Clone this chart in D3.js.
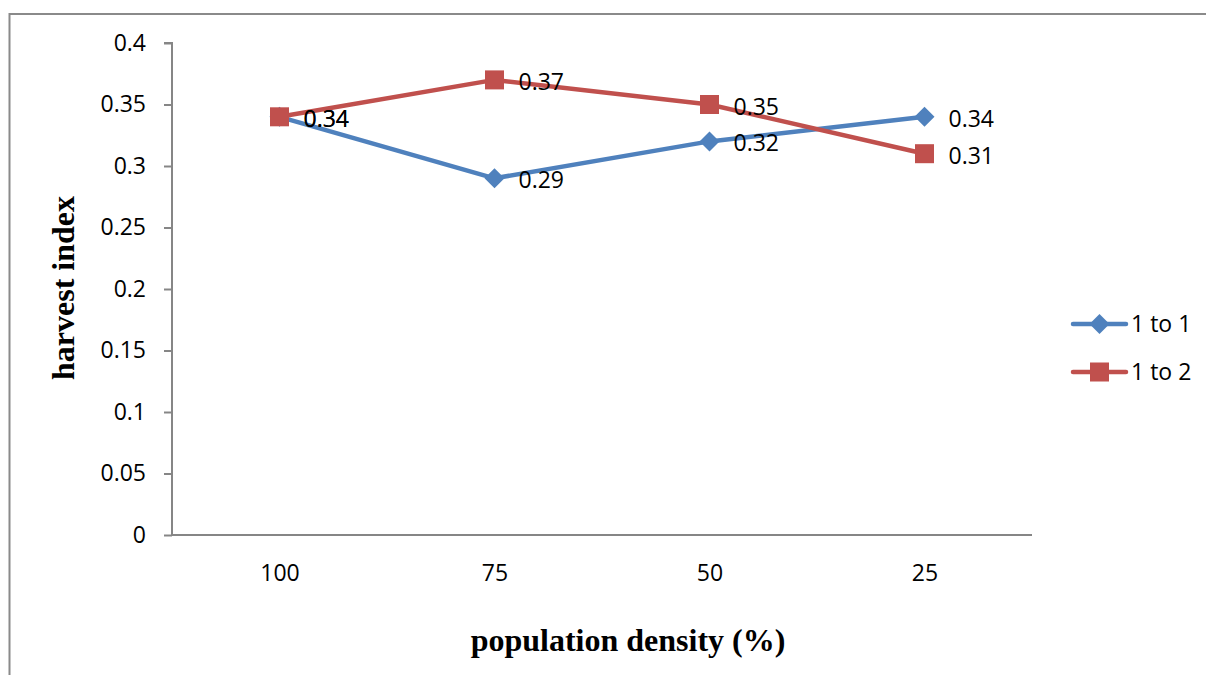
<!DOCTYPE html>
<html>
<head>
<meta charset="utf-8">
<script src="https://cdn.jsdelivr.net/npm/d3@7/dist/d3.min.js"></script>
<style>
  html, body { margin: 0; padding: 0; background: #fff; }
  svg { display: block; }
</style>
</head>
<body>
<svg id="chart" width="1206" height="675"></svg>
<script>
// Harvest index by population density for two planting ratios
const categories = ["100", "75", "50", "25"];
const seriesNames = ["1 to 1", "1 to 2"];
const ratio11 = [0.34, 0.29, 0.32, 0.34];
const ratio12 = [0.34, 0.37, 0.35, 0.31];
const yTicks = [0, 0.05, 0.1, 0.15, 0.2, 0.25, 0.3, 0.35, 0.4];

const series = [
  { name: seriesNames[0], values: ratio11, color: "#4F81BD", marker: "diamond" },
  { name: seriesNames[1], values: ratio12, color: "#C0504D", marker: "square" }
];

const svg = d3.select("#chart");
const font = "'Open Sans', 'Liberation Sans', sans-serif";
const fontSize = 23;
const axisColor = "#868686";

// outer frame of the chart area
svg.append("rect")
  .attr("x", 9.5).attr("y", 14)
  .attr("width", 1230).attr("height", 700)
  .attr("fill", "none")
  .attr("stroke", "#8a8a8a")
  .attr("stroke-width", 2);

const plot = { left: 172, right: 1032, top: 43, bottom: 535 };

const x = d3.scalePoint().domain(categories).range([plot.left, plot.right]).padding(0.5);
const y = d3.scaleLinear().domain([0, 0.4]).range([plot.bottom, plot.top]);

// y axis
const yAxis = svg.append("g")
  .attr("transform", `translate(${plot.left},0)`)
  .call(d3.axisLeft(y).tickValues(yTicks).tickSize(8).tickPadding(18)
    .tickFormat(d => d3.format("")(+d.toFixed(2))));
yAxis.select(".domain").attr("stroke", axisColor).attr("stroke-width", 2)
  .attr("d", `M-8,${plot.top}H0V${plot.bottom}`);
yAxis.selectAll(".tick line").attr("stroke", axisColor).attr("stroke-width", 2);
yAxis.selectAll(".tick text")
  .attr("fill", "#000").attr("font-family", font).attr("font-size", fontSize);

// x axis (no tick marks)
const xAxis = svg.append("g")
  .attr("transform", `translate(0,${plot.bottom})`)
  .call(d3.axisBottom(x).tickSize(0).tickPadding(30));
xAxis.select(".domain").attr("stroke", axisColor).attr("stroke-width", 2)
  .attr("d", `M${plot.left},0H${plot.right}`);
xAxis.selectAll(".tick text")
  .attr("fill", "#000").attr("font-family", font).attr("font-size", fontSize);

// axis titles
svg.append("text")
  .attr("x", 628).attr("y", 651)
  .attr("text-anchor", "middle")
  .attr("font-family", "'Liberation Serif', 'Times New Roman', serif")
  .attr("font-weight", "bold").attr("font-size", 32)
  .text("population density (%)");

svg.append("text")
  .attr("transform", "translate(74,288) rotate(-90)")
  .attr("text-anchor", "middle")
  .attr("font-family", "'Liberation Serif', 'Times New Roman', serif")
  .attr("font-weight", "bold").attr("font-size", 32)
  .text("harvest index");

const line = d3.line().x((d, i) => x(categories[i])).y(d => y(d));

function drawMarker(g, type, cx, cy, color) {
  if (type === "square") {
    g.append("rect")
      .attr("x", cx - 9.5).attr("y", cy - 9.5)
      .attr("width", 19).attr("height", 19)
      .attr("fill", color);
  } else {
    const r = 10;
    g.append("path")
      .attr("d", `M${cx},${cy - r}L${cx + r},${cy}L${cx},${cy + r}L${cx - r},${cy}Z`)
      .attr("fill", color);
  }
}

series.forEach(s => {
  const g = svg.append("g");
  g.append("path")
    .datum(s.values)
    .attr("d", line)
    .attr("fill", "none")
    .attr("stroke", s.color)
    .attr("stroke-width", 4.5)
    .attr("stroke-linejoin", "round")
    .attr("stroke-linecap", "round");
  s.values.forEach((v, i) => drawMarker(g, s.marker, x(categories[i]), y(v), s.color));
});

// data labels
series.forEach(s => {
  svg.append("g").selectAll("text")
    .data(s.values)
    .join("text")
    .attr("x", (d, i) => x(categories[i]) + 24)
    .attr("y", d => y(d) + 2)
    .attr("dy", "0.35em")
    .attr("font-family", font).attr("font-size", fontSize)
    .attr("fill", "#000")
    .text(d => d.toFixed(2));
});

// legend
const legend = svg.append("g");
series.forEach((s, i) => {
  const ly = 324 + i * 48;
  legend.append("line")
    .attr("x1", 1073).attr("x2", 1126)
    .attr("y1", ly).attr("y2", ly)
    .attr("stroke", s.color).attr("stroke-width", 4.5)
    .attr("stroke-linecap", "round");
  drawMarker(legend, s.marker, 1099.5, ly, s.color);
  legend.append("text")
    .attr("x", 1131).attr("y", ly)
    .attr("dy", "0.35em")
    .attr("font-family", font).attr("font-size", fontSize)
    .attr("fill", "#000")
    .text(s.name);
});
</script>
</body>
</html>
